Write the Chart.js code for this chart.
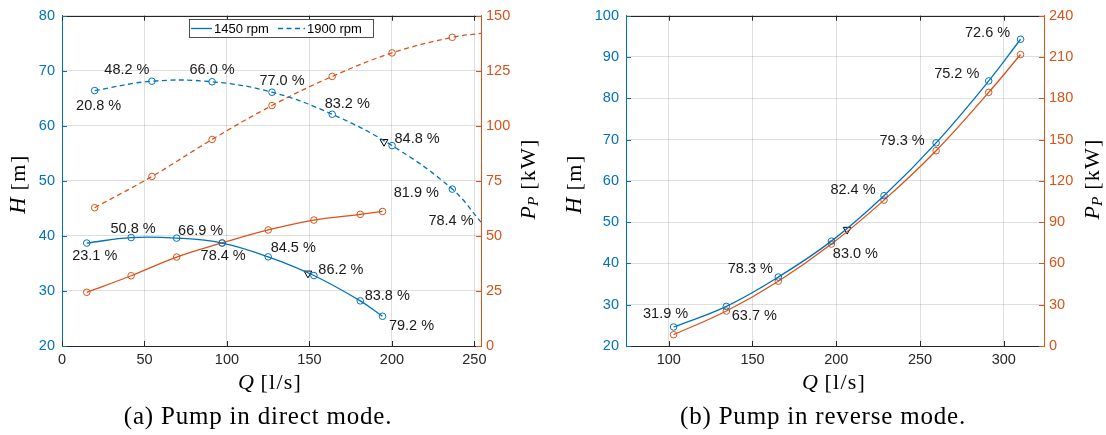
<!DOCTYPE html>
<html>
<head>
<meta charset="utf-8">
<script src="https://cdn.jsdelivr.net/npm/chart.js@4.4.1/dist/chart.umd.min.js"></script>
<style>
  html, body { margin: 0; padding: 0; background: #fff; }
  #wrap { position: relative; width: 1106px; height: 435px; overflow: hidden; }
  .panel { position: absolute; top: 0; width: 553px; height: 435px; }
</style>
</head>
<body>
<div id="wrap">
  <div class="panel" style="left:0"><canvas id="direct" width="553" height="435"></canvas></div>
  <div class="panel" style="left:553px"><canvas id="reverse" width="553" height="435"></canvas></div>
</div>
<script>
// --- tick labels ---
const directQTicks = [0, 50, 100, 150, 200, 250];
const directHTicks = [20, 30, 40, 50, 60, 70, 80];
const directPTicks = [0, 25, 50, 75, 100, 125, 150];
const reverseQTicks = [100, 150, 200, 250, 300];
const reverseHTicks = [20, 30, 40, 50, 60, 70, 80, 90, 100];
const reversePTicks = [0, 30, 60, 90, 120, 150, 180, 210, 240];

// --- direct mode, 1450 rpm ---
const direct1450Q = [15.0, 41.9, 69.5, 97.1, 125.0, 152.7, 180.8, 194.3];
const direct1450H = [38.7, 39.7, 39.6, 38.7, 36.2, 32.8, 28.2, 25.4];
const direct1450P = [24.4, 31.9, 40.4, 46.8, 52.7, 57.2, 59.8, 61.1];
const direct1450Eff = ['23.1 %', '50.8 %', '66.9 %', '78.4 %', '84.5 %', '86.2 %', '83.8 %', '79.2 %'];

// --- direct mode, 1900 rpm (last point = where the curve leaves the axes) ---
const direct1900Q = [19.8, 54.5, 91.0, 127.3, 163.8, 200.1, 236.6, 254];
const direct1900H = [66.4, 68.1, 68.0, 66.1, 62.1, 56.4, 48.5, 42.5];
const direct1900P = [62.8, 77.0, 93.8, 109.2, 122.4, 133.1, 140.2, 142.0];
const direct1900Eff = ['20.8 %', '48.2 %', '66.0 %', '77.0 %', '83.2 %', '84.8 %', '81.9 %', '78.4 %'];
const direct1900Markers = 7;

// best efficiency points
const directBepQ = [149.1, 195.2];
const directBepH = [33.2, 57.1];

// --- reverse mode ---
const reverseQ = [102.9, 134.4, 165.4, 197.1, 228.5, 259.6, 291.0, 310.0];
const reverseH = [24.6, 29.6, 36.7, 45.4, 56.4, 69.2, 84.2, 94.3];
const reverseP = [8.2, 25.4, 47.1, 74.1, 106.0, 141.9, 184.3, 211.8];
const reverseEff = ['31.9 %', '63.7 %', '78.3 %', '83.0 %', '82.4 %', '79.3 %', '75.2 %', '72.6 %'];
const reverseBepQ = [206.5];
const reverseBepH = [48.2];

// label offsets from their point, px
const direct1450Shift = [[8, 13], [2, -9], [24, -7], [1, 13], [25, -9], [27, -6], [27, -5], [29, 10]];
const direct1900Shift = [[4, 15], [-25, -11], [0, -12], [10, -11], [15, -10], [25, -7], [-36, 4], [-30, -1]];
const reverseShift = [[-8, -13], [28, 10], [-28, -8], [24, 13], [-31, -6], [-34, -2], [-32, -7], [-33, -6]];

const BLUE = '#0072BD';
const ORANGE = '#D95319';
const AXIS = '#262626';
const GRID = 'rgba(38,38,38,0.15)';
const SANS = '"Liberation Sans", Arial, Helvetica, sans-serif';
const SERIF = '"Liberation Serif", "Times New Roman", serif';
const DASH = [5, 3.5];

Chart.defaults.font.family = SANS;
Chart.defaults.font.size = 14.5;

const xy = (xs, ys) => xs.map((x, i) => ({ x, y: ys[i] }));

function curve(label, q, v, color, axis, dash, labels, shift, markers) {
  return {
    label,
    data: xy(q, v),
    yAxisID: axis,
    borderColor: color,
    borderWidth: 1.3,
    borderDash: dash,
    tension: 0.4,
    pointStyle: 'circle',
    pointRadius: c => (markers != null && c.dataIndex >= markers) ? 0 : 3.3,
    pointBorderWidth: 1,
    pointBorderColor: color,
    pointBackgroundColor: 'rgba(0,0,0,0)',
    effLabels: labels,
    effShift: shift
  };
}

function bep(q, h) {
  return {
    label: 'BEP',
    data: xy(q, h),
    yAxisID: 'y',
    showLine: false,
    pointStyle: 'triangle',
    rotation: 180,
    pointRadius: 4.5,
    pointBorderWidth: 1,
    pointBorderColor: '#000',
    pointBackgroundColor: 'rgba(0,0,0,0)'
  };
}

function scalesFor(qTicks, hTicks, pTicks, qMin, qMax, leftW, rightW) {
  const fixTicks = arr => s => { s.ticks = arr.map(v => ({ value: v })); };
  return {
    x: {
      type: 'linear', min: qMin, max: qMax,
      afterBuildTicks: fixTicks(qTicks),
      afterFit: s => { s.height = 89; },
      grid: { color: GRID, drawTicks: false },
      border: { color: AXIS, width: 1 },
      ticks: { color: AXIS, padding: 5 }
    },
    y: {
      type: 'linear', position: 'left',
      min: hTicks[0], max: hTicks[hTicks.length - 1],
      afterBuildTicks: fixTicks(hTicks),
      afterFit: s => { s.width = leftW; },
      grid: { color: GRID, drawTicks: false },
      border: { color: BLUE, width: 1 },
      ticks: { color: BLUE, padding: 7 }
    },
    y1: {
      type: 'linear', position: 'right',
      min: pTicks[0], max: pTicks[pTicks.length - 1],
      afterBuildTicks: fixTicks(pTicks),
      afterFit: s => { s.width = rightW; },
      grid: { display: false, drawTicks: false },
      border: { color: ORANGE, width: 1 },
      ticks: { color: ORANGE, padding: 5 }
    }
  };
}

function drawRich(ctx, parts, x, y, rot) {
  ctx.save();
  ctx.translate(x, y);
  if (rot) ctx.rotate(rot);
  ctx.textAlign = 'left';
  ctx.textBaseline = 'middle';
  ctx.fillStyle = '#000';
  let w = 0;
  parts.forEach(p => {
    ctx.font = p.font;
    ctx.letterSpacing = (p.ls || 0) + 'px';
    p.w = ctx.measureText(p.text).width;
    w += p.w;
  });
  let cx = -w / 2;
  parts.forEach(p => {
    ctx.font = p.font;
    ctx.letterSpacing = (p.ls || 0) + 'px';
    ctx.fillText(p.text, cx, p.dy || 0);
    cx += p.w;
  });
  ctx.restore();
}

const it = s => 'italic ' + s + 'px ' + SERIF;
const rm = s => s + 'px ' + SERIF;
const hTitle = [{ text: 'H', font: it(22.5) }, { text: ' [m]', font: rm(22), ls: 1.5 }];
const pTitle = [{ text: 'P', font: it(22) }, { text: 'P', font: it(15.5), dy: 5 }, { text: ' [kW]', font: rm(22), ls: 1.2 }];
const qTitle = [{ text: 'Q', font: it(22) }, { text: ' [l/s]', font: rm(22), ls: 1.2 }];
const caption = t => [{ text: t, font: rm(25), ls: 0.8 }];

const decor = {
  id: 'decor',
  afterDraw(chart, args, opts) {
    const { ctx, chartArea: a, scales } = chart;
    ctx.save();
    const seg = (x1, y1, x2, y2) => { ctx.beginPath(); ctx.moveTo(x1, y1); ctx.lineTo(x2, y2); ctx.stroke(); };
    const tl = 5;
    ctx.lineWidth = 1;
    ctx.strokeStyle = AXIS;
    seg(a.left, Math.round(a.top) + 0.5, a.right, Math.round(a.top) + 0.5);
    scales.x.ticks.forEach(t => {
      const px = Math.round(scales.x.getPixelForValue(t.value)) + 0.5;
      seg(px, a.top, px, a.top + tl);
      seg(px, a.bottom, px, a.bottom - tl);
    });
    ctx.strokeStyle = BLUE;
    scales.y.ticks.forEach(t => {
      const py = Math.round(scales.y.getPixelForValue(t.value)) + 0.5;
      seg(a.left, py, a.left + tl, py);
    });
    ctx.strokeStyle = ORANGE;
    scales.y1.ticks.forEach(t => {
      const py = Math.round(scales.y1.getPixelForValue(t.value)) + 0.5;
      seg(a.right, py, a.right - tl, py);
    });

    // efficiency labels
    ctx.font = '14.5px ' + SANS;
    ctx.fillStyle = '#1a1a1a';
    ctx.textAlign = 'center';
    ctx.textBaseline = 'middle';
    chart.data.datasets.forEach((ds, i) => {
      if (!ds.effLabels) return;
      const meta = chart.getDatasetMeta(i);
      ds.effLabels.forEach((txt, j) => {
        const el = meta.data[j];
        const [dx, dy] = ds.effShift[j];
        ctx.fillText(txt, el.x + dx, el.y + dy);
      });
    });

    // legend inside the axes
    if (opts.legend) {
      const L = opts.legend;
      ctx.fillStyle = '#fff';
      ctx.fillRect(L.x, L.y, L.w, L.h);
      ctx.strokeStyle = AXIS;
      ctx.lineWidth = 0.8;
      ctx.strokeRect(L.x + 0.5, L.y + 0.5, L.w, L.h);
      ctx.font = '13px ' + SANS;
      ctx.fillStyle = '#000';
      ctx.textAlign = 'left';
      L.items.forEach(item => {
        const ds = chart.data.datasets[item.ds];
        ctx.strokeStyle = ds.borderColor;
        ctx.lineWidth = 1.3;
        ctx.setLineDash(ds.borderDash || []);
        seg(item.x0, L.y + L.h / 2 + 0.5, item.x1, L.y + L.h / 2 + 0.5);
        ctx.setLineDash([]);
        ctx.fillText(ds.label, item.tx, L.y + L.h / 2 + 1);
      });
    }

    // axis titles and caption
    opts.titles.forEach(t => drawRich(ctx, t.parts, t.x, t.y, t.rot));
    ctx.restore();
  }
};

new Chart(document.getElementById('direct'), {
  type: 'line',
  data: {
    datasets: [
      curve('1450 rpm', direct1450Q, direct1450H, BLUE, 'y', [], direct1450Eff, direct1450Shift),
      curve('1450 rpm P', direct1450Q, direct1450P, ORANGE, 'y1', []),
      curve('1900 rpm', direct1900Q, direct1900H, BLUE, 'y', DASH, direct1900Eff, direct1900Shift, direct1900Markers),
      curve('1900 rpm P', direct1900Q, direct1900P, ORANGE, 'y1', DASH, null, null, direct1900Markers),
      bep(directBepQ, directBepH)
    ]
  },
  options: {
    responsive: false,
    animation: false,
    layout: { padding: { top: 13, left: 0, right: 0, bottom: 0 } },
    scales: scalesFor(directQTicks, directHTicks, directPTicks, 0, 254, 62, 72),
    plugins: {
      legend: { display: false },
      tooltip: { enabled: false },
      decor: {
        legend: { x: 189, y: 19, w: 184, h: 18, items: [
          { ds: 0, x0: 191, x1: 212, tx: 214 },
          { ds: 2, x0: 278, x1: 305, tx: 307 }
        ] },
        titles: [
          { parts: hTitle, x: 19, y: 184, rot: -Math.PI / 2 },
          { parts: pTitle, x: 529, y: 179, rot: -Math.PI / 2 },
          { parts: qTitle, x: 270, y: 383 },
          { parts: caption('(a) Pump in direct mode.'), x: 258, y: 417 }
        ]
      }
    }
  },
  plugins: [decor]
});

new Chart(document.getElementById('reverse'), {
  type: 'line',
  data: {
    datasets: [
      curve('H', reverseQ, reverseH, BLUE, 'y', [], reverseEff, reverseShift),
      curve('P', reverseQ, reverseP, ORANGE, 'y1', []),
      bep(reverseBepQ, reverseBepH)
    ]
  },
  options: {
    responsive: false,
    animation: false,
    layout: { padding: { top: 13, left: 0, right: 0, bottom: 0 } },
    scales: scalesFor(reverseQTicks, reverseHTicks, reversePTicks, 74.5, 324, 73, 62),
    plugins: {
      legend: { display: false },
      tooltip: { enabled: false },
      decor: {
        titles: [
          { parts: hTitle, x: 22, y: 184, rot: -Math.PI / 2 },
          { parts: pTitle, x: 540, y: 179, rot: -Math.PI / 2 },
          { parts: qTitle, x: 281, y: 383 },
          { parts: caption('(b) Pump in reverse mode.'), x: 270, y: 417 }
        ]
      }
    }
  },
  plugins: [decor]
});
</script>
</body>
</html>
